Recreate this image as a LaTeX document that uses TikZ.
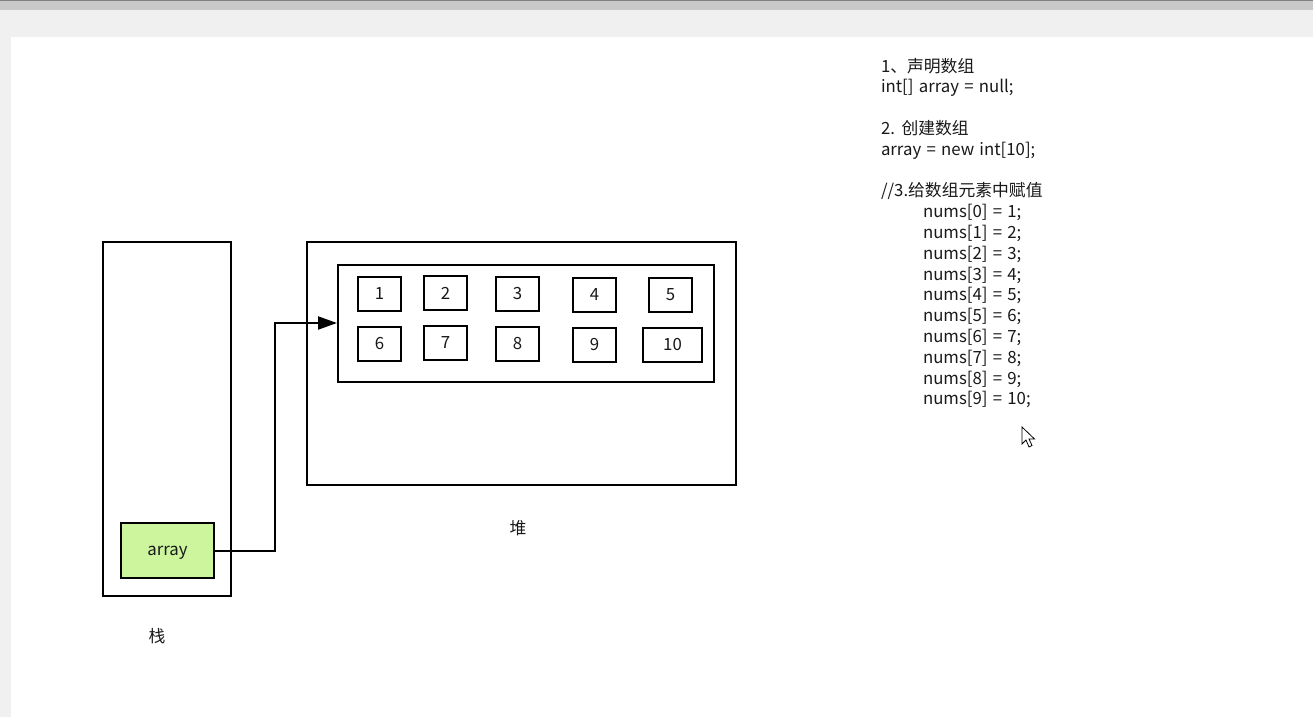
\documentclass[tikz,border=0pt]{standalone}
\usepackage{fontspec}
\setmainfont[WordSpace=1.4]{Noto Sans CJK SC}
\usepackage{tikz}
\usetikzlibrary{arrows.meta,positioning}

\definecolor{arraygreen}{HTML}{CDF59E}
\definecolor{bggray}{HTML}{F0F0F0}
\definecolor{bargray}{HTML}{C9C9C9}

\begin{document}
\begin{tikzpicture}[x=1pt,y=-1pt, line width=2pt,
        every node/.style={font=\fontsize{16.8}{20}\selectfont, text=black!90},
        cell/.style={draw, minimum width=43pt, minimum height=34pt, inner sep=0pt, line width=2pt},
        codeline/.style={anchor=base west, inner sep=0pt}]
        % window background
        \fill[bggray] (0,0) rectangle (1313,717);
        \fill[bargray] (0,0) rectangle (1313,10);
        \fill[black!50] (0,0) rectangle (1313,1.5);
        \fill[white] (11,37) rectangle (1313,717);
        \useasboundingbox (0,0) rectangle (1313,717);
        % stack and heap
        \node[draw, minimum width=128pt, minimum height=354pt, inner sep=0pt] (stack) at (167,419) {};
        \node[draw, minimum width=429pt, minimum height=243pt, inner sep=0pt] (heap) at (521.5,363.5) {};
        \node[draw, minimum width=376pt, minimum height=117pt, inner sep=0pt] (arr) at (526,323.5) {};
        \node (stacklabel) at (157,636) {栈};
        \node (heaplabel) at (518,528) {堆};
        % cells
        \node[cell] (c1) at (379.5,294) {1};
        \node[cell] (c2) at (445.5,293) {2};
        \node[cell] (c3) at (517.5,294) {3};
        \node[cell] (c4) at (594.5,295) {4};
        \node[cell] (c5) at (670.5,295) {5};
        \node[cell] (c6) at (379.5,344) {6};
        \node[cell] (c7) at (445.5,343) {7};
        \node[cell] (c8) at (517.5,344) {8};
        \node[cell] (c9) at (594.5,345) {9};
        \node[cell, minimum width=59pt] (c10) at (672.5,345) {10};
        % reference
        \node[draw, fill=arraygreen, minimum width=93pt, minimum height=55pt, inner sep=0pt, text depth=0pt] (ref) at (167.5,550.5) {array};
        \coordinate (bend) at (275,323);
        \draw[-{Triangle[length=19pt,width=13pt]}] (ref.east) -| (bend) -- (bend -| arr.west);
        % code
        \node[codeline] (l1) at (880,72) {1、声明数组};
        \node[codeline] (l2) at (880,92.8) {int[] array = null;};
        \node[codeline] (l3) at (880,134.4) {2. 创建数组};
        \node[codeline] (l4) at (880,155.2) {array = new int[10];};
        \node[codeline] (l5) at (880,196.8) {//3.给数组元素中赋值};
        \node[codeline] (n0) at (922,217.6) {nums[0] = 1;};
        \node[codeline] (n1) at (922,238.4) {nums[1] = 2;};
        \node[codeline] (n2) at (922,259.2) {nums[2] = 3;};
        \node[codeline] (n3) at (922,280.0) {nums[3] = 4;};
        \node[codeline] (n4) at (922,300.8) {nums[4] = 5;};
        \node[codeline] (n5) at (922,321.6) {nums[5] = 6;};
        \node[codeline] (n6) at (922,342.4) {nums[6] = 7;};
        \node[codeline] (n7) at (922,363.2) {nums[7] = 8;};
        \node[codeline] (n8) at (922,384.0) {nums[8] = 9;};
        \node[codeline] (n9) at (922,404.8) {nums[9] = 10;};
        % mouse pointer
        \draw[fill=white, line width=0.8pt, line join=miter] (1022,427) -- ++(0,17) -- ++(4,-4) -- ++(3,7) -- ++(3,-1.5) -- ++(-3,-6.5) -- ++(5.5,0) -- cycle;
    \end{tikzpicture}
\end{document}
